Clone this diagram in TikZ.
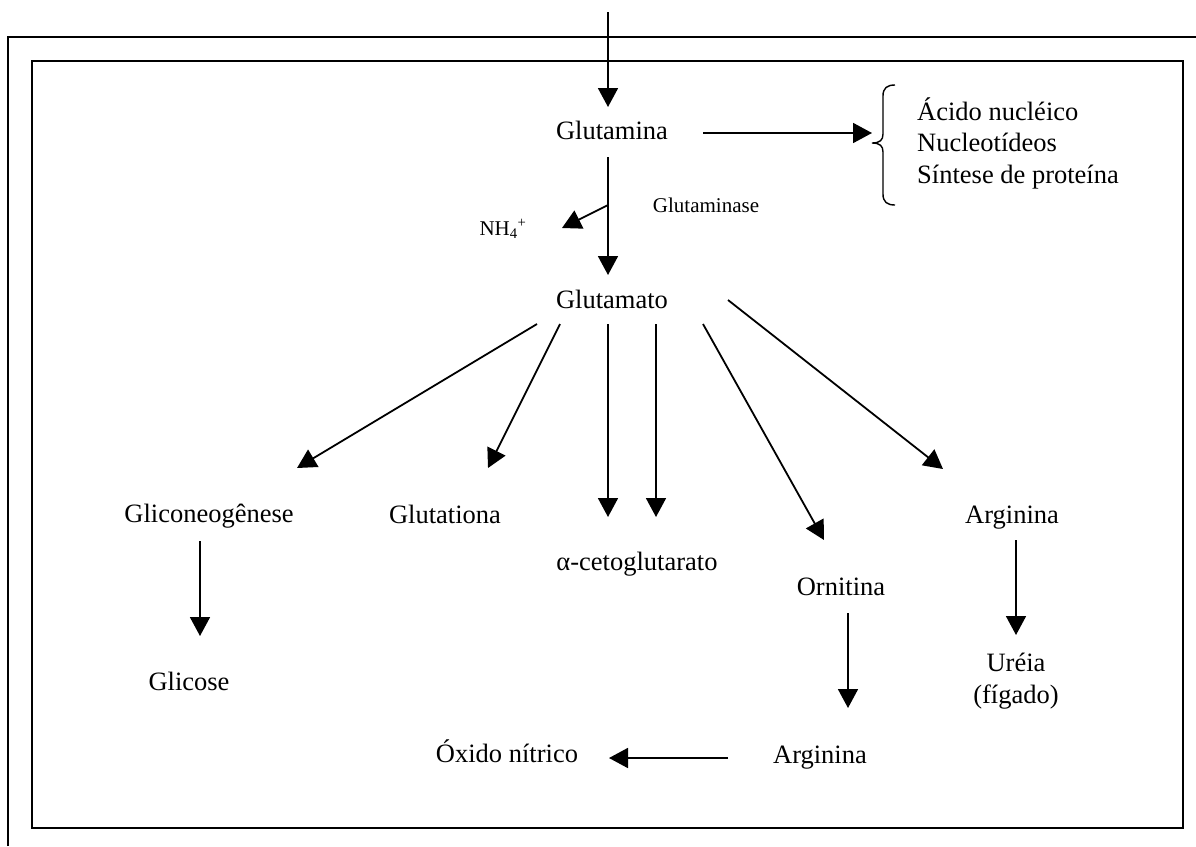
\documentclass[tikz,border=0pt]{standalone}
\usepackage{fontspec}
\setmainfont{Liberation Serif}
\usetikzlibrary{arrows.meta,calc}
\begin{document}
\begin{tikzpicture}[x=1pt,y=-1pt,
  lbl/.style={inner sep=0pt, text height=0.8em, text depth=0.14em, font=\fontsize{26.5}{32}\selectfont},
  small/.style={inner sep=0pt, font=\fontsize{21}{24}\selectfont},
  arr/.style={line width=1.8pt, -{Triangle[length=19pt,width=20pt]}},
  frame/.style={line width=2pt}]
\useasboundingbox (0,0) rectangle (1196,846);
% frames
\draw[frame] (8,846) -- (8,37) -- (1196,37);
\draw[frame] (32,61) rectangle (1183,828);
% nodes
\coordinate (top) at (608,12);
\node[lbl] (glutamina) at (612,136) {Glutamina};
\node[lbl] (glutamato) at (612,305) {Glutamato};
\node[small] (nh4) at (503,229) {NH\textsubscript{4}\textsuperscript{+}};
\node[small] (glutaminase) at (706,205) {Glutaminase};
\node[inner sep=0pt, font=\fontsize{26.5}{31.5}\selectfont, anchor=west, align=left] (acido) at (917,143) {Ácido nucléico\\Nucleotídeos\\Síntese de proteína};
\node[lbl] (glicon) at (209,519) {Gliconeogênese};
\node[lbl] (glutationa) at (445,520) {Glutationa};
\node[lbl] (aceto) at (637,567) {α-cetoglutarato};
\node[lbl] (ornitina) at (841,592) {Ornitina};
\node[lbl] (arginina1) at (1012,520) {Arginina};
\node[lbl] (glicose) at (189,687) {Glicose};
\node[inner sep=0pt, font=\fontsize{26.5}{32}\selectfont, align=center] (ureia) at (1016,681) {Uréia\\(fígado)};
\node[lbl] (arginina2) at (820,760) {Arginina};
\node[lbl] (oxido) at (507,759) {Óxido nítrico};
% brace
\draw[line width=1.4pt] (895,85) .. controls (887,85) and (883,88) .. (883,96) -- (883,134)
  .. controls (883,140) and (880,143) .. (872,143)
  .. controls (880,143) and (883,146) .. (883,152) -- (883,194)
  .. controls (883,202) and (887,205) .. (895,205);
% arrows
\draw[arr] (top) -- ($(glutamina)+(-4,-29)$);
\draw[arr] ($(glutamina)+(91,-3)$) -- ($(acido.west)+(-45,-10)$);
\draw[arr] ($(glutamina)+(-4,21)$) -- ($(glutamato)+(-4,-30)$);
\draw[arr] ($(glutamina)+(-4,69)$) -- ($(nh4)+(59,-1)$);
\draw[arr] ($(glutamato)+(-75,19)$) -- ($(glicon)+(88,-51)$);
\draw[arr] ($(glutamato)+(-52,19)$) -- ($(glutationa)+(43,-52)$);
\draw[arr] ($(glutamato)+(-4,19)$) -- ($(aceto)+(-29,-50)$);
\draw[arr] ($(glutamato)+(44,19)$) -- ($(aceto)+(19,-50)$);
\draw[arr] ($(glutamato)+(91,19)$) -- ($(ornitina)+(-17,-52)$);
\draw[arr] ($(glutamato)+(116,-5)$) -- ($(arginina1)+(-69,-51)$);
\draw[arr] ($(glicon)+(-9,22)$) -- ($(glicose)+(11,-51)$);
\draw[arr] ($(ornitina)+(7,21)$) -- ($(arginina2)+(28,-52)$);
\draw[arr] ($(arginina1)+(4,20)$) -- ($(ureia)+(0,-46)$);
\draw[arr] ($(arginina2)+(-92,-2)$) -- ($(oxido)+(102,-1)$);
\end{tikzpicture}
\end{document}
